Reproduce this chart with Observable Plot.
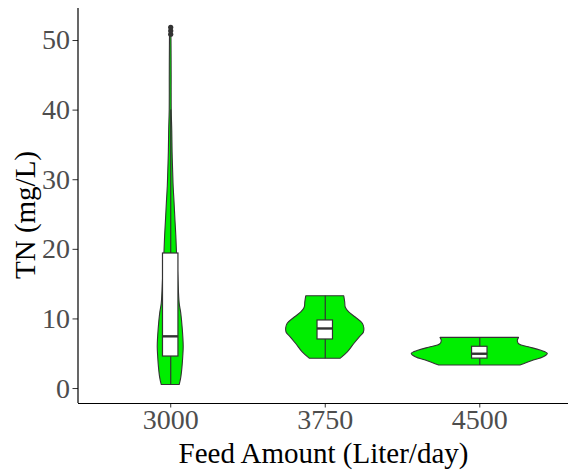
<!DOCTYPE html>
<html>
<head>
<meta charset="utf-8">
<script src="https://cdn.jsdelivr.net/npm/d3@7"></script>
<script src="https://cdn.jsdelivr.net/npm/@observablehq/plot@0.6"></script>
<style>
  html, body { margin: 0; padding: 0; background: #fff; }
  #chart svg { display: block; font-family: "Liberation Serif", "Times New Roman", serif !important; }
  #chart svg text { font-family: "Liberation Serif", "Times New Roman", serif !important; }
</style>
</head>
<body>
<div id="chart"></div>
<script>
// Feed amount groups (x categories, placed at positions 1, 2, 3)
const feeds = ["3000", "3750", "4500"];

// Violin outlines: [TN (mg/L), half width of the density in category units]
const violin3000 = [
  [52, 0.003], [50, 0.005], [45, 0.006], [40, 0.0065], [37, 0.01], [34, 0.012],
  [31, 0.016], [29, 0.019], [27, 0.024], [24, 0.031], [22, 0.036], [19.8, 0.040],
  [16, 0.049], [12.2, 0.058], [10.8, 0.068], [8.5, 0.078], [6, 0.084], [4.5, 0.081],
  [3, 0.076], [1.5, 0.068], [0.5, 0.058]
];
const violin3750 = [
  [13.25, 0.123], [12.4, 0.129], [11.6, 0.133], [10.95, 0.155], [10.2, 0.197],
  [9.3, 0.243], [8.6, 0.253], [8.0, 0.250], [7.4, 0.225], [6.4, 0.188],
  [5.2, 0.146], [4.27, 0.099]
];
const violin4500 = [
  [7.28, 0.254], [6.8, 0.246], [6.32, 0.257], [5.93, 0.317], [5.46, 0.393],
  [4.98, 0.44], [4.5, 0.414], [3.92, 0.337], [3.3, 0.263]
];

// Box-plot summaries per group
const boxLow    = [0.5, 4.27, 3.3];
const boxQ1     = [4.6, 7.05, 4.3];
const boxMedian = [7.5, 8.63, 5.0];
const boxQ3     = [19.4, 9.78, 6.0];
const boxHigh   = [40, 13.25, 7.28];
const outliers3000 = [50.9, 51.4, 51.9];

const yTicks = [0, 10, 20, 30, 40, 50];

// Tables built from the arrays above
const violins = [violin3000, violin3750, violin4500].flatMap((v, i) =>
  v.map(([tn, hw]) => ({feed: feeds[i], tn, x1: i + 1 - hw, x2: i + 1 + hw}))
);
const boxes = feeds.map((feed, i) => ({
  feed, pos: i + 1, low: boxLow[i], q1: boxQ1[i], med: boxMedian[i], q3: boxQ3[i], high: boxHigh[i]
}));
const outliers = outliers3000.map(tn => ({pos: 1, tn}));

const boxHalf = 0.05;
const fontFamily = "Liberation Serif";

const chart = Plot.plot({
  width: 568,
  height: 475,
  marginTop: 8,
  marginBottom: 72,
  marginLeft: 78,
  marginRight: 0,
  style: {fontFamily, background: "#fff"},
  x: {domain: [0.4, 3.6], range: [77.5, 572]},
  y: {domain: [-2.15, 54.6]},
  marks: [
    Plot.areaX(violins, {
      y: "tn", x1: "x1", x2: "x2", z: "feed",
      fill: "#00ee00", stroke: "#333333", strokeWidth: 1.1, curve: "catmull-rom"
    }),
    // whiskers
    Plot.ruleX(boxes, {x: "pos", y1: "low", y2: "q1", stroke: "#333333", strokeWidth: 1.2}),
    Plot.ruleX(boxes, {x: "pos", y1: "q3", y2: "high", stroke: "#333333", strokeWidth: 1.2}),
    // boxes
    Plot.rect(boxes, {
      x1: d => d.pos - boxHalf, x2: d => d.pos + boxHalf, y1: "q1", y2: "q3",
      fill: "white", stroke: "#333333", strokeWidth: 1.2
    }),
    Plot.ruleY(boxes, {
      y: "med", x1: d => d.pos - boxHalf, x2: d => d.pos + boxHalf,
      stroke: "#333333", strokeWidth: 2.4
    }),
    Plot.dot(outliers, {x: "pos", y: "tn", r: 2.6, fill: "#333333", stroke: "none"}),
    // axes
    Plot.axisX({
      ticks: [1, 2, 3], tickFormat: i => feeds[i - 1], label: null,
      tickSize: 4.5, tickPadding: 1, fontSize: 28, fontFamily,
      stroke: "#333333", fill: "#4d4d4d"
    }),
    Plot.axisY({
      ticks: yTicks, label: null,
      tickSize: 5.5, tickPadding: 3, fontSize: 28, fontFamily,
      stroke: "#333333", fill: "#4d4d4d"
    }),
    Plot.ruleX([0.4], {stroke: "black", strokeWidth: 1.2}),
    Plot.ruleY([-2.15], {stroke: "black", strokeWidth: 1.2}),
    // axis titles
    Plot.text(["Feed Amount (Liter/day)"], {
      frameAnchor: "bottom", lineAnchor: "middle", textAnchor: "middle",
      dy: 50, fontSize: 29, fontFamily, fill: "black", text: d => d
    }),
    Plot.text(["TN (mg/L)"], {
      frameAnchor: "left", lineAnchor: "middle", textAnchor: "middle", rotate: -90,
      dx: -53, dy: 9, fontSize: 29, fontFamily, fill: "black", text: d => d
    })
  ]
});

document.getElementById("chart").append(chart);
</script>
</body>
</html>
